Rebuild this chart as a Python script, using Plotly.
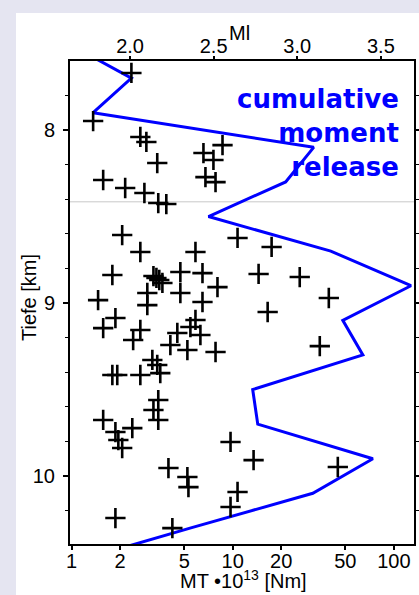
import plotly.graph_objects as go

# Earthquake moment (MT, x 10^13 Nm) and depth (km)
mt = [2.35, 1.36, 2.67, 2.91, 3.40, 1.57, 2.15, 2.83, 3.45, 3.87,
      8.64, 6.58, 7.59, 6.77, 7.82,
      2.06, 2.67, 5.87, 1.79, 3.22, 3.36, 3.50, 3.66, 4.73, 6.49,
      8.04, 2.95, 4.73, 6.49, 1.46, 2.95, 1.87, 1.57, 2.67, 2.41,
      4.53, 5.46, 5.87, 6.30, 4.10, 5.23, 7.82, 3.17, 3.40, 3.55,
      1.79, 1.92, 2.67, 3.45, 3.22, 3.45, 1.57, 1.87, 2.38, 1.95,
      2.06, 9.69, 3.99, 5.23, 5.31, 13.47, 44.89, 10.71, 9.69, 1.87,
      4.22, 10.71, 17.43, 14.47, 26.05, 39.47, 16.47, 34.69]
depth = [7.67, 7.948, 8.040, 8.069, 8.191, 8.289, 8.335, 8.364, 8.422, 8.428,
         8.087, 8.133, 8.173, 8.272, 8.301,
         8.607, 8.705, 8.705, 8.838, 8.844, 8.855, 8.867, 8.884, 8.821, 8.827,
         8.908, 8.942, 8.942, 8.994, 8.983, 9.012, 9.087, 9.145, 9.156, 9.214,
         9.173, 9.139, 9.098, 9.185, 9.243, 9.272, 9.283, 9.329, 9.358, 9.405,
         9.416, 9.416, 9.416, 9.561, 9.618, 9.676, 9.676, 9.746, 9.723, 9.792,
         9.838, 9.803, 9.954, 10.006, 10.064, 9.908, 9.948, 10.092, 10.179, 10.243,
         10.301, 8.624, 8.676, 8.832, 8.850, 8.971, 9.052, 9.249]

# cumulative moment release per 0.2 km depth bin
line_depth = [7.5, 7.7, 7.9, 8.1, 8.3, 8.5, 8.7, 8.9, 9.1, 9.3, 9.5, 9.7, 9.9, 10.1, 10.3, 10.5]
line_mt = [0.95, 2.35, 1.36, 31.8, 21.3, 7.07, 40.6, 127.7, 48.2, 64.2, 13.3, 14.3, 74.1, 31.4, 5.5, 1.0]

mt_ticks = [1, 2, 5, 10, 20, 50, 100]
ml_ticks = [2.0, 2.5, 3.0, 3.5]
depth_ticks = [8, 9, 10]
marker_depth = 8.415

FONT = "Liberation Sans, Arial, sans-serif"

fig = go.Figure()
fig.add_trace(go.Scatter(x=line_mt, y=line_depth, mode="lines",
                         line=dict(color="#0000ff", width=3), hoverinfo="skip"))
fig.add_trace(go.Scatter(x=mt, y=depth, mode="markers",
                         marker=dict(symbol="cross-thin", size=14.5,
                                     line=dict(color="black", width=2.6)),
                         hoverinfo="skip"))
fig.add_trace(go.Scatter(x=[2.0], y=[None], xaxis="x2", mode="markers",
                         showlegend=False, hoverinfo="skip"))

fig.add_shape(type="rect", xref="paper", yref="paper",
              x0=-0.157, x1=1.1, y0=-0.2, y1=1.0994,
              fillcolor="white", line=dict(width=0), layer="below")
fig.add_shape(type="line", xref="paper", yref="y", x0=0, x1=1,
              y0=marker_depth, y1=marker_depth,
              line=dict(color="#c8c8c8", width=1), layer="below")

fig.add_annotation(text="cumulative<br>moment<br>release", xref="paper", yref="paper",
                   x=0.962, y=0.851, xanchor="right", yanchor="middle", align="right",
                   showarrow=False,
                   font=dict(family="DejaVu Sans", size=26, color="#0000ff", weight="bold"))

# axis titles
fig.add_annotation(text="Tiefe [km]", xref="paper", yref="paper", x=-0.1192, y=0.5114,
                   xanchor="center", yanchor="middle", textangle=-90, showarrow=False,
                   font=dict(family=FONT, size=20, color="black"))
fig.add_annotation(text="Ml", xref="paper", yref="paper", x=0.494, y=1.058,
                   xanchor="center", yanchor="middle", showarrow=False,
                   font=dict(family=FONT, size=20, color="black"))
fig.add_annotation(text="MT •10<sup>13</sup> [Nm]", xref="paper", yref="paper",
                   x=0.503, y=-0.0725, xanchor="center", yanchor="middle",
                   showarrow=False, font=dict(family=FONT, size=20, color="black"))

fig.update_layout(
    width=419, height=595,
    margin=dict(l=70, r=5, t=61, b=51),
    paper_bgcolor="#e5e5f1", plot_bgcolor="white",
    showlegend=False,
    font=dict(family=FONT, color="black", size=20),
    xaxis=dict(type="log", range=[-0.01, 2.125], tickvals=mt_ticks,
               ticktext=[str(v) for v in mt_ticks], automargin=False,
               ticks="outside", ticklen=4, tickwidth=1.5, tickcolor="black",
               showline=True, linecolor="black", linewidth=2, showgrid=False,
               zeroline=False, tickfont=dict(size=20), ticklabelstandoff=-6),
    xaxis2=dict(overlaying="x", side="top", anchor="y", range=[1.641, 3.698],
                tickvals=ml_ticks, ticktext=["%.1f" % v for v in ml_ticks],
                automargin=False,
                ticks="outside", ticklen=3, tickwidth=1.5, tickcolor="black",
                showline=True, linecolor="black", linewidth=2, showgrid=False,
                zeroline=False, tickfont=dict(size=20), ticklabelstandoff=-5),
    yaxis=dict(range=[10.393, 7.601], tickvals=depth_ticks, automargin=False,
               ticks="outside", ticklen=5, tickwidth=1.5, tickcolor="black",
               minor=dict(dtick=0.2, tick0=8, ticks="outside", ticklen=3,
                          tickcolor="black", tickwidth=1),
               showline=True, linecolor="black", linewidth=2, mirror="ticks",
               showgrid=False, zeroline=False, tickfont=dict(size=20),
               ticklabelstandoff=4),
)

fig.write_html("out.html", config={"displayModeBar": False},
               post_script="document.body.style.margin='0px';")
